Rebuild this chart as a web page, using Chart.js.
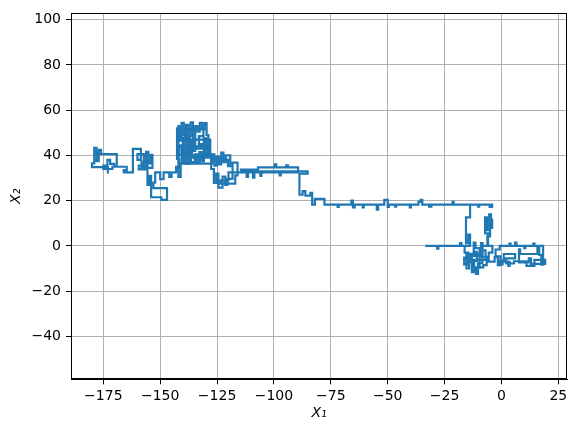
<!DOCTYPE html>
<html><head><meta charset="utf-8">
<script src="https://cdn.jsdelivr.net/npm/chart.js@4/dist/chart.umd.min.js"></script>
<style>html,body{margin:0;padding:0;background:#fff}</style>
</head><body>
<canvas id="c" width="577" height="435"></canvas>
<script>
// ---- tick labels ----
const xTicks = [-175, -150, -125, -100, -75, -50, -25, 0, 25];
const yTicks = [-40, -20, 0, 20, 40, 60, 80, 100];

// ---- walk path, as [X1, X2] pairs ----
const segFarLeft = [
  [-173, 32.5], [-173, 34.8], [-180, 34.8], [-180, 36.5], [-179, 36.5], [-179, 43.3],
  [-178, 43.3], [-178, 37.5], [-177, 37.5], [-177, 42.5], [-176, 42.5], [-176, 40.6],
  [-178.5, 40.6], [-178.5, 40.6], [-169.1, 40.6], [-169.1, 35], [-170.2, 35], [-170.2, 36.3],
  [-172, 36.3], [-172, 38], [-173.2, 38], [-173.2, 35.5], [-175, 35.5], [-175, 34],
  [-171, 34], [-171, 35], [-164.7, 35], [-164.7, 33.5], [-166, 33.5], [-166, 32.5]
];
const segLeft2 = [
  [-162, 32.5], [-162, 42.9], [-158.5, 42.9], [-158.5, 38], [-160, 38], [-160, 40.6],
  [-157.2, 40.6], [-157.2, 35.5], [-159.4, 35.5], [-159.4, 33.8], [-156.2, 33.8], [-156.2, 41.6],
  [-155.2, 41.6], [-155.2, 36.5], [-154.2, 36.5], [-154.2, 40.2], [-153.4, 40.2], [-153.4, 34.5],
  [-158.2, 34.5], [-158.2, 37.2], [-155.6, 37.2], [-155.6, 27], [-154.8, 27], [-154.8, 31],
  [-154, 31], [-154, 21.5], [-149.5, 21.5], [-149.5, 20.3], [-147, 20.3], [-147, 25.5],
  [-153, 25.5], [-153, 28], [-152.2, 28], [-152.2, 32.5], [-150, 32.5], [-150, 29.5],
  [-148.5, 29.5], [-148.5, 32.5], [-146, 32.5], [-146, 30.5], [-145, 30.5], [-145, 32.5],
  [-143, 32.5]
];
const segCluster = [
  [-143, 35], [-141.6, 35], [-141.6, 38.5], [-142.6, 38.5], [-142.6, 52], [-141.6, 52],
  [-141.6, 46.5], [-140.6, 46.5], [-140.6, 54.4], [-139.6, 54.4], [-139.6, 49], [-138.6, 49],
  [-138.6, 53.5], [-137.6, 53.5], [-137.6, 48.5], [-136.6, 48.5], [-136.6, 54.6], [-135.6, 54.6],
  [-135.6, 42], [-134.6, 42], [-134.6, 53], [-133.6, 53], [-133.6, 50.5], [-132.6, 50.5],
  [-132.6, 54.4], [-131.6, 54.4], [-131.6, 51.5], [-130.6, 51.5], [-130.6, 54.3], [-129.6, 54.3],
  [-129.6, 49], [-128.8, 49], [-128.8, 41], [-129.8, 41], [-129.8, 47.5], [-130.8, 47.5],
  [-130.8, 37.5], [-131.8, 37.5], [-131.8, 41.5], [-132.8, 41.5], [-132.8, 36.5], [-133.8, 36.5],
  [-133.8, 40.5], [-134.8, 40.5], [-134.8, 37], [-136.5, 37], [-136.5, 46], [-137.5, 46],
  [-137.5, 36.2], [-138.5, 36.2], [-138.5, 42], [-139.5, 42], [-139.5, 36.5], [-140.5, 36.5],
  [-140.5, 44.5], [-141.6, 44.5], [-141.6, 40], [-128.5, 40], [-128.5, 44], [-142.2, 44],
  [-142.2, 49.5], [-139, 49.5], [-139, 51.5], [-131, 51.5], [-131, 48.5], [-133, 48.5],
  [-133, 45], [-129.3, 45], [-129.3, 43], [-136, 43], [-136, 39], [-128, 39],
  [-128, 47], [-140, 47], [-140, 41.2], [-139, 41.2], [-139, 48], [-138, 48],
  [-138, 40.5], [-137, 40.5], [-137, 47.8], [-141, 47.8], [-141, 53], [-142, 53],
  [-142, 30.5], [-141, 30.5], [-141, 36.4], [-128, 36.4],
  [-127.2, 36.4], [-127.2, 40.5], [-126.2, 40.5], [-126.2, 35.5], [-125.2, 35.5],
  [-125.2, 39.5], [-124.2, 39.5], [-124.2, 36], [-123.2, 36], [-123.2, 41.3], [-122.2, 41.3],
  [-122.2, 37], [-121.2, 37], [-121.2, 40], [-119.2, 40], [-119.2, 35.2], [-120.2, 35.2],
  [-120.2, 38.2], [-127.6, 38.2], [-127.6, 34], [-126.4, 34], [-126.4, 27.8], [-125.4, 27.8],
  [-125.4, 32], [-124.4, 32], [-124.4, 25.8], [-122.6, 25.8], [-122.6, 30.6], [-121.4, 30.6],
  [-121.4, 27], [-120.4, 27], [-120.4, 29.6], [-118.2, 29.6], [-118.2, 36.8], [-116, 36.8],
  [-116, 31.2], [-117, 31.2], [-117, 27.5], [-123.4, 27.5], [-123.4, 29], [-120, 29],
  [-120, 32.5]
];
const segMiddle = [
  [-112, 32.5], [-112, 30.5], [-111.4, 30.5], [-111.4, 32.5], [-109.2, 32.5], [-109.2, 30.2],
  [-108.6, 30.2], [-108.6, 32.5], [-106, 32.5], [-106, 30.9], [-105.5, 30.9], [-105.5, 32.5],
  [-97.5, 32.5], [-97.5, 31.2], [-97, 31.2], [-97, 32.5], [-89.4, 32.5], [-89.4, 34.7],
  [-93.8, 34.7], [-93.8, 35.6], [-94.6, 35.6], [-94.6, 34.7], [-99, 34.7], [-99, 36],
  [-99.6, 36], [-99.6, 34.7], [-107, 34.7], [-107, 33.7], [-114.5, 33.7], [-114.5, 32.9],
  [-85.2, 32.9], [-85.2, 31.9], [-88.8, 31.9], [-88.8, 22.6], [-87.4, 22.6], [-87.4, 24.2],
  [-86.2, 24.2], [-86.2, 22.2], [-84, 22.2], [-84, 23.4], [-83.2, 23.4], [-83.2, 18.2],
  [-82, 18.2], [-82, 20.8], [-77.8, 20.8], [-77.8, 18.2]
];
const segLevel18 = [
  [-72, 18.2], [-72, 17.2], [-71.5, 17.2], [-71.5, 18.2], [-66, 18.2], [-66, 20],
  [-65.3, 20], [-65.3, 17], [-64.5, 17], [-64.5, 18.2], [-61, 18.2], [-61, 17],
  [-60.5, 17], [-60.5, 18.2], [-54.8, 18.2], [-54.8, 16], [-54.2, 16], [-54.2, 18.2],
  [-51.5, 18.2], [-51.5, 20.3], [-50, 20.3], [-50, 17.2], [-49.5, 17.2], [-49.5, 18.2],
  [-46.8, 18.2], [-46.8, 17.3], [-46.3, 17.3], [-46.3, 18.2], [-40.3, 18.2], [-40.3, 17],
  [-39.8, 17], [-39.8, 18.2], [-36.5, 18.2], [-36.5, 19.5], [-35.5, 19.5], [-35.5, 20.3],
  [-34.8, 20.3], [-34.8, 18.2], [-31.8, 18.2], [-31.8, 17.4], [-30.8, 17.4], [-30.8, 18.2],
  [-21.5, 18.2], [-21.5, 19.5], [-21, 19.5], [-21, 18.2], [-10.3, 18.2], [-10.3, 17.4],
  [-9.8, 17.4], [-9.8, 18.2], [-4.1, 18.2], [-4.1, 17.2], [-5.2, 17.2], [-5.2, 18.2],
  [-13.8, 18.2]
];
const segDrop = [
  [-13.8, 12.6], [-15.6, 12.6], [-15.6, 1.2], [-14.6, 1.2], [-14.6, 5], [-13.8, 5],
  [-13.8, 0], [-18.2, 0], [-18.2, 1.2], [-17.6, 1.2], [-17.6, 0], [-28.3, 0],
  [-28.3, -1.2], [-27.7, -1.2], [-27.7, 0], [-33.5, 0], [-16.2, 0]
];
const segLowerLeft = [
  [-16.2, -3], [-14.6, -3], [-14.6, -8.2], [-16.4, -8.2], [-16.4, -5.2], [-13, -5.2],
  [-13, -11.6], [-12, -11.6], [-12, -6.6], [-10.8, -6.6], [-10.8, -2.6], [-12.2, -2.6],
  [-12.2, 1.5], [-11.4, 1.5], [-11.4, -1], [-9.6, -1], [-9.6, -9.6], [-11.2, -9.6],
  [-11.2, -12.4], [-10.3, -12.4], [-10.3, -7.6], [-8.4, -7.6], [-8.4, -4.4], [-14, -4.4],
  [-14, -6.2], [-7, -6.2], [-7, -2], [-9, -2], [-9, 1.2], [-8.3, 1.2],
  [-8.3, -3.5], [-15.4, -3.5], [-15.4, -10], [-14.2, -10], [-14.2, -7.2], [-12.6, -7.2],
  [-12.6, -9.5], [-8, -9.5], [-8, -8.5], [-6.5, -8.5], [-6.5, -4.8], [-9, -4.8],
  [-9, -0.5], [-8.3, -0.5], [-8.3, 0], [-5.9, 0]
];
const segBlob = [
  [-5.9, 5.5], [-7.2, 5.5], [-7.2, 12.6], [-6.4, 12.6], [-6.4, 7], [-5.4, 7],
  [-5.4, 13.9], [-4.6, 13.9], [-4.6, 8], [-4.1, 8], [-4.1, 11.6], [-6.8, 11.6],
  [-6.8, 9], [-5, 9], [-5, 4.2], [-6.2, 4.2], [-6.2, 0], [-4, 0],
  [-4, -3], [-5.6, -3], [-5.6, -7], [-3, -7], [-3, -5], [-1.6, -5],
  [-1.6, -8.5], [-0.4, -8.5], [-0.4, -4.6], [-2.6, -4.6], [-2.6, -1.6], [-0.8, -1.6],
  [-0.8, 0], [0, 0]
];
const segRight = [
  [3.5, 0], [3.5, 1], [4, 1], [4, 0], [6, 0], [6, 1.5],
  [6.6, 1.5], [6.6, 0], [10, 0], [10, -1], [10.5, -1], [10.5, 0],
  [14, 0], [14, 1], [14.5, 1], [14.5, 0], [18.3, 0], [18.3, -8.3],
  [17.5, -8.3], [17.5, -4], [16.6, -4], [16.6, -0.8], [15.8, -0.8], [15.8, -3.6],
  [8.2, -3.6], [8.2, -1.5], [7.7, -1.5], [7.7, -7.3], [12, -7.3], [12, -5.5],
  [13, -5.5], [13, -8], [19.2, -8], [19.2, -6.2], [14.5, -6.2], [14.5, -8.8],
  [11, -8.8], [11, -6.8], [5.5, -6.8], [5.5, -7.8], [2, -7.8], [2, -5.5],
  [6, -5.5], [6, -3.6], [1, -3.6], [1, -6.5], [-0.6, -6.5], [-0.6, -8.2],
  [0.5, -8.2], [0.5, -7], [3, -7], [3, -8.8], [3.6, -8.8], [3.6, -7.2]
];

const path = [].concat(segFarLeft, segLeft2, segCluster, segMiddle, segLevel18,
                       segDrop, segLowerLeft, segBlob, segRight);
const X1 = path.map(p => p[0]);
const X2 = path.map(p => p[1]);
const points = X1.map((x, i) => ({ x: x, y: X2[i] }));

const FONT = 'DejaVu Sans';
const fmt = v => (v < 0 ? '\u2212' + Math.abs(v) : String(v));

const frame = {
  id: 'frame',
  afterDraw(chart) {
    const a = chart.chartArea, c = chart.ctx;
    c.save();
    c.strokeStyle = '#000';
    c.lineWidth = 1;
    c.strokeRect(Math.round(a.left) + 0.5, Math.round(a.top) + 0.5,
                 Math.round(a.right - a.left) - 1, Math.round(a.bottom - a.top) - 1);
    c.restore();
  }
};

new Chart(document.getElementById('c'), {
  type: 'scatter',
  data: { datasets: [{
    data: points, showLine: true, borderColor: '#1f77b4', backgroundColor: '#1f77b4',
    borderWidth: 2.2, pointRadius: 0, pointHoverRadius: 0, tension: 0, fill: false,
    borderJoinStyle: 'miter', borderCapStyle: 'square'
  }]},
  options: {
    responsive: false, animation: false, devicePixelRatio: 1,
    layout: { padding: { top: 10, right: 10, left: 0, bottom: 0 } },
    plugins: { legend: { display: false }, tooltip: { enabled: false } },
    scales: {
      x: {
        type: 'linear', min: -189.2, max: 28.8,
        afterBuildTicks: s => { s.ticks = xTicks.map(v => ({ value: v })); },
        afterFit: s => { s.height = 55.7; },
        grid: { color: '#b0b0b0', lineWidth: 1, tickColor: '#000', tickLength: 5, drawTicks: true },
        border: { display: true, color: '#000', width: 1 },
        ticks: { font: { family: FONT, size: 14 }, color: '#000', padding: 4,
                 maxRotation: 0, autoSkip: false, callback: v => fmt(v) },
        title: { display: true, text: 'X\u2081', color: '#000',
                 font: { family: FONT, size: 14, style: 'italic' },
                 padding: { top: 0, bottom: 13.6 } }
      },
      y: {
        type: 'linear', min: -59, max: 102.8,
        afterBuildTicks: s => { s.ticks = yTicks.map(v => ({ value: v })); },
        afterFit: s => { s.width = 71; },
        grid: { color: '#b0b0b0', lineWidth: 1, tickColor: '#000', tickLength: 5, drawTicks: true },
        border: { display: true, color: '#000', width: 1 },
        ticks: { font: { family: FONT, size: 14 }, color: '#000', padding: 5,
                 autoSkip: false, callback: v => fmt(v) },
        title: { display: true, text: 'X\u2082', color: '#000',
                 font: { family: FONT, size: 14, style: 'italic' },
                 padding: { top: 8, bottom: 0 } }
      }
    }
  },
  plugins: [frame]
});
</script>
</body></html>
